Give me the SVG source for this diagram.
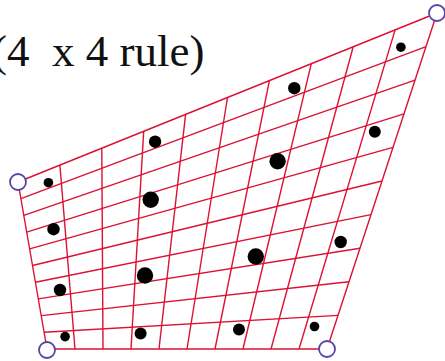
<svg xmlns="http://www.w3.org/2000/svg" width="445" height="361" viewBox="0 0 445 361">
<style>
.g line{stroke:#dd1133;stroke-width:1.4;fill:none}
.d{fill:#000}
.c{fill:#fff;stroke:#5a44a8;stroke-width:1.8}
.t{font-family:"Liberation Serif","Times New Roman",serif;font-size:45px;fill:#111}
</style>
<rect width="445" height="361" fill="#fff"/>
<text class="t" x="-8" y="66" xml:space="preserve">(4  x 4 rule)</text>
<g id="connectors" class="g">
<line x1="47" y1="349" x2="18" y2="182"/>
<line x1="75" y1="349" x2="59.9" y2="165.1"/>
<line x1="103" y1="349" x2="101.8" y2="148.2"/>
<line x1="131" y1="349" x2="143.7" y2="131.3"/>
<line x1="159" y1="349" x2="185.6" y2="114.4"/>
<line x1="187" y1="349" x2="227.5" y2="97.5"/>
<line x1="215" y1="349" x2="269.4" y2="80.6"/>
<line x1="243" y1="349" x2="311.3" y2="63.7"/>
<line x1="271" y1="349" x2="353.2" y2="46.8"/>
<line x1="299" y1="349" x2="395.1" y2="29.9"/>
<line x1="327" y1="349" x2="437" y2="13"/>
<line x1="47" y1="349" x2="327" y2="349"/>
<line x1="44.1" y1="332.3" x2="338" y2="315.4"/>
<line x1="41.2" y1="315.6" x2="349" y2="281.8"/>
<line x1="38.3" y1="298.9" x2="360" y2="248.2"/>
<line x1="35.4" y1="282.2" x2="371" y2="214.6"/>
<line x1="32.5" y1="265.5" x2="382" y2="181"/>
<line x1="29.6" y1="248.8" x2="393" y2="147.4"/>
<line x1="26.7" y1="232.1" x2="404" y2="113.8"/>
<line x1="23.8" y1="215.4" x2="415" y2="80.2"/>
<line x1="20.9" y1="198.7" x2="426" y2="46.6"/>
<line x1="18" y1="182" x2="437" y2="13"/>
</g>
<g id="points">
<circle class="d" cx="65.1" cy="336.6" r="4.8"/>
<circle class="d" cx="140.6" cy="333.5" r="6"/>
<circle class="d" cx="239" cy="329.5" r="6"/>
<circle class="d" cx="314.5" cy="326.5" r="4.8"/>
<circle class="d" cx="60" cy="290" r="6.2"/>
<circle class="d" cx="145" cy="275.5" r="8.2"/>
<circle class="d" cx="255.8" cy="256.5" r="8.2"/>
<circle class="d" cx="340.7" cy="242" r="6.2"/>
<circle class="d" cx="53.5" cy="229.2" r="6.2"/>
<circle class="d" cx="150.7" cy="199.7" r="8.2"/>
<circle class="d" cx="277.6" cy="161.2" r="8.2"/>
<circle class="d" cx="374.8" cy="131.7" r="6"/>
<circle class="d" cx="48.4" cy="182.7" r="4.8"/>
<circle class="d" cx="155.1" cy="141.7" r="6.2"/>
<circle class="d" cx="294.3" cy="88.2" r="6.2"/>
<circle class="d" cx="400.9" cy="47.2" r="4.8"/>
</g>
<g id="node-tl"><circle class="c" cx="18" cy="182" r="8"/></g>
<g id="node-bl"><circle class="c" cx="47" cy="350" r="8"/></g>
<g id="node-br"><circle class="c" cx="327" cy="349" r="8"/></g>
<g id="node-tr"><circle class="c" cx="437" cy="13" r="8"/></g>
</svg>
